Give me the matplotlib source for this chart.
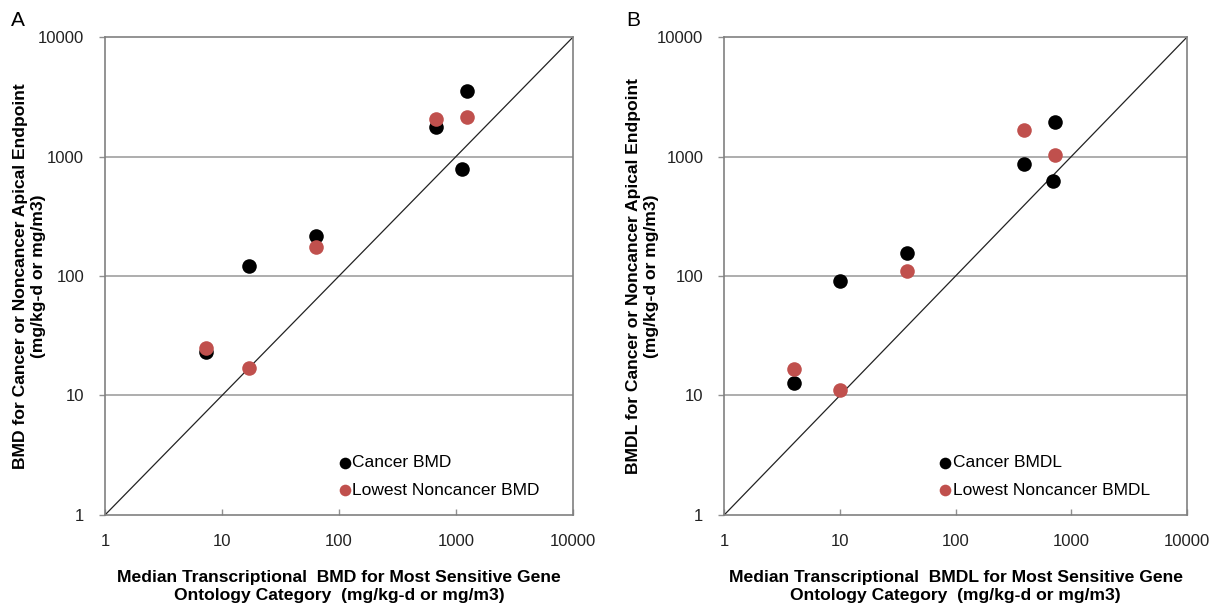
import matplotlib.pyplot as plt
from matplotlib.ticker import FixedLocator, NullLocator

# Panel A: BMD
a_cancer_x = [7.3, 17, 63, 670, 1130, 1250]
a_cancer_y = [23, 121, 216, 1770, 790, 3550]
a_noncancer_x = [7.3, 17, 63, 680, 1250]
a_noncancer_y = [25, 17, 175, 2050, 2150]

# Panel B: BMDL
b_cancer_x = [4.0, 10, 37.8, 390, 700, 730]
b_cancer_y = [12.8, 91, 156, 863, 628, 1930]
b_noncancer_x = [4.0, 10, 37.8, 390, 730]
b_noncancer_y = [16.7, 11.1, 110, 1675, 1033]

ticks = [1, 10, 100, 1000, 10000]
tick_labels = ["1", "10", "100", "1000", "10000"]

RED = "#C0504D"

plt.rcParams["font.family"] = ["Liberation Sans", "DejaVu Sans"]


def draw_panel(ax, cx, cy, nx, ny, names, xlabel, ylabel, ylab_x):
    ax.set_xscale("log")
    ax.set_yscale("log")
    ax.set_xlim(1, 10000)
    ax.set_ylim(1, 10000)
    for t in ticks[1:-1]:
        ax.axhline(t, color="#a0a0a0", lw=1.2, zorder=1)
    ax.plot([1, 10000], [1, 10000], color="#222222", lw=0.9, zorder=2)
    ax.scatter(cx, cy, s=110, color="black", label=names[0], zorder=3,
               linewidths=0)
    ax.scatter(nx, ny, s=110, color=RED, label=names[1], zorder=4,
               linewidths=0)
    ax.xaxis.set_major_locator(FixedLocator(ticks))
    ax.yaxis.set_major_locator(FixedLocator(ticks))
    ax.xaxis.set_minor_locator(NullLocator())
    ax.yaxis.set_minor_locator(NullLocator())
    ax.set_xticklabels(tick_labels)
    ax.set_yticklabels(tick_labels)
    ax.tick_params(labelsize=12, labelcolor="#222222", color="#909090",
                   length=4, width=1.0)
    ax.tick_params(axis="x", direction="in", pad=14)
    ax.tick_params(axis="y", direction="out", pad=11)
    for sp in ax.spines.values():
        sp.set_color("#808080")
        sp.set_linewidth(1.2)
    ax.set_xlabel(xlabel, fontsize=12.6, fontweight="bold", labelpad=15,
                  linespacing=1.2)
    ax.set_ylabel(ylabel, fontsize=12.6, fontweight="bold",
                  linespacing=1.25, va="center")
    ax.yaxis.set_label_coords(ylab_x, 0.5)


fig = plt.figure(figsize=(12.11, 6.05), dpi=100)
ax1 = fig.add_axes([0.0867, 0.1488, 0.3865, 0.790])
ax2 = fig.add_axes([0.598, 0.1488, 0.3822, 0.790])

draw_panel(ax1, a_cancer_x, a_cancer_y, a_noncancer_x, a_noncancer_y,
           ["Cancer BMD", "Lowest Noncancer BMD"],
           "Median Transcriptional  BMD for Most Sensitive Gene\n"
           "Ontology Category  (mg/kg-d or mg/m3)",
           "BMD for Cancer or Noncancer Apical Endpoint\n(mg/kg-d or mg/m3)",
           -0.161)
draw_panel(ax2, b_cancer_x, b_cancer_y, b_noncancer_x, b_noncancer_y,
           ["Cancer BMDL", "Lowest Noncancer BMDL"],
           "Median Transcriptional  BMDL for Most Sensitive Gene\n"
           "Ontology Category  (mg/kg-d or mg/m3)",
           "BMDL for Cancer or Noncancer Apical Endpoint\n(mg/kg-d or mg/m3)",
           -0.176)

for ax, x0 in [(ax1, 0.46), (ax2, 0.424)]:
    ax.legend(loc="lower left", bbox_to_anchor=(x0, 0.022), frameon=False,
              fontsize=12.5, handletextpad=-0.55, labelspacing=0.7,
              markerscale=0.8, borderaxespad=0)

fig.text(18 / 1211, 1 - 21 / 605, "A", fontsize=15, ha="center", va="center")
fig.text(633 / 1211, 1 - 21 / 605, "B", fontsize=15, ha="center", va="center")

fig.savefig("out.png", dpi=100)
